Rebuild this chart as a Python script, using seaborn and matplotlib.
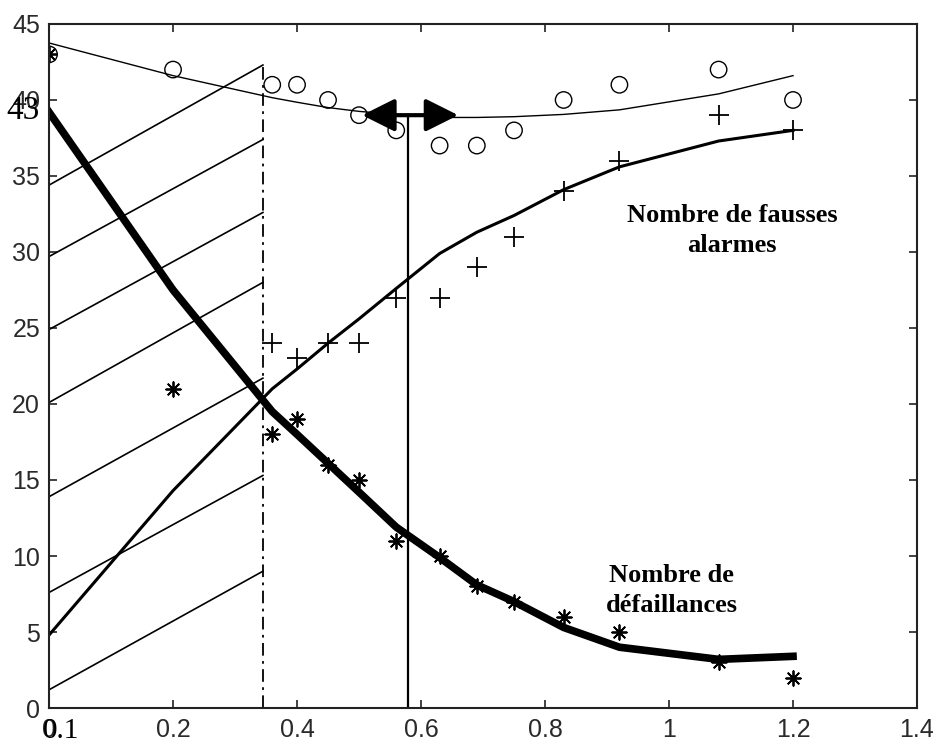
import matplotlib
matplotlib.use("Agg")
import seaborn as sns
from matplotlib import pyplot as plt

# seuils (abscisses des mesures)
seuils = [0, 0.2, 0.36, 0.4, 0.45, 0.5, 0.56, 0.63, 0.69, 0.75, 0.83, 0.92, 1.08, 1.2]

# mesures
cercles = [43, 42, 41, 41, 40, 39, 38, 37, 37, 38, 40, 41, 42, 40]
defaillances = [43, 21, 18, 19, 16, 15, 11, 10, 8, 7, 6, 5, 3, 2]
seuils_fa = [0.36, 0.4, 0.45, 0.5, 0.56, 0.63, 0.69, 0.75, 0.83, 0.92, 1.08, 1.2]
fausses_alarmes = [24, 23, 24, 24, 27, 27, 29, 31, 34, 36, 39, 38]

# courbes lissées
fit_cercles = [43.75, 41.6, 40.15, 39.85, 39.5, 39.25, 39.05, 38.85, 38.85, 38.9, 39.05, 39.35, 40.4, 41.6]
fit_defaillances = [39.2, 27.5, 19.5, 18.0, 16.1, 14.2, 11.9, 9.9, 8.1, 7.0, 5.3, 4.0, 3.2, 3.4]
fit_fausses_alarmes = [4.8, 14.3, 21.0, 22.3, 24.0, 25.6, 27.6, 29.9, 31.3, 32.4, 34.1, 35.6, 37.3, 38.0]

# zone hachurée
fin_zone = 0.345
hachures_gauche = [1.2, 7.6, 13.9, 20.1, 24.9, 29.7, 34.4]
hachures_droite = [9.0, 15.3, 21.7, 28.0, 32.6, 37.4, 42.3]

# seuil optimal et flèche
seuil_opt = 0.579
fleche_x = [0.505, 0.66]
fleche_y = 39.0

x_ticks = [0, 0.2, 0.4, 0.6, 0.8, 1.0, 1.2, 1.4]
x_labels = ["0", "0.2", "0.4", "0.6", "0.8", "1", "1.2", "1.4"]
y_ticks = [0, 5, 10, 15, 20, 25, 30, 35, 40, 45]

fig, ax = plt.subplots(figsize=(9.36, 7.42), dpi=100)
fig.subplots_adjust(left=0.0524, right=0.9797, bottom=0.0458, top=0.9677)

# hachures
for g, d in zip(hachures_gauche, hachures_droite):
    ax.plot([0, fin_zone], [g, d], color="k", lw=1.2)
ax.plot([fin_zone, fin_zone], [0, 42.5], color="k", lw=1.3,
        linestyle=(0, (7, 3, 1.5, 3)))

# courbes
sns.lineplot(x=seuils, y=fit_cercles, color="k", linewidth=1.0, estimator=None, ax=ax)
sns.lineplot(x=seuils, y=fit_fausses_alarmes, color="k", linewidth=2.2, estimator=None, ax=ax)
sns.lineplot(x=seuils, y=fit_defaillances, color="k", linewidth=5.5, estimator=None, ax=ax)

# points
sns.scatterplot(x=seuils, y=cercles, marker="o", s=140, facecolor="none",
                edgecolor="k", linewidth=1.0, ax=ax)
sns.scatterplot(x=seuils, y=defaillances, marker=(8, 2, 0), s=110, color="k",
                linewidth=1.3, ax=ax)
sns.scatterplot(x=seuils_fa, y=fausses_alarmes, marker="+", s=190, color="k",
                linewidth=1.3, ax=ax)

# seuil optimal
ax.plot([seuil_opt, seuil_opt], [0, fleche_y], color="k", lw=1.6)
ax.annotate("", xy=(fleche_x[0], fleche_y), xytext=(fleche_x[1], fleche_y),
            arrowprops=dict(arrowstyle="<|-|>,head_length=0.8,head_width=0.4",
                            lw=3, color="k", mutation_scale=25,
                            shrinkA=0, shrinkB=0))

# textes
txt = dict(family="Liberation Serif", weight="bold", fontsize=19, ha="center",
           va="baseline", color="k")
ax.text(1.102, 31.97, "Nombre de fausses", **txt)
ax.text(1.102, 30.0, "alarmes", **txt)
ax.text(1.004, 8.29, "Nombre de", **txt)
ax.text(1.004, 6.32, "défaillances", **txt)

# textes parasites superposés aux graduations
ax.text(-0.0145, 38.75, "43", family="Liberation Serif", fontsize=24,
        ha="right", va="baseline", clip_on=False)
ax.text(-0.0097, -1.97, "0.1", family="Liberation Serif", fontsize=21,
        ha="left", va="baseline", clip_on=False)

ax.set_xlim(0, 1.4)
ax.set_ylim(0, 45)
ax.set_xticks(x_ticks)
ax.set_xticklabels(x_labels)
ax.set_yticks(y_ticks)
for lab in ax.get_xticklabels() + ax.get_yticklabels():
    lab.set_family("Liberation Sans")
ax.tick_params(direction="in", top=True, right=True, length=6, width=1.2,
               labelsize=18, labelcolor="#2a2a2a", color="#222222")
ax.tick_params(axis="x", pad=7.4)
ax.tick_params(axis="y", pad=6.5)
for sp in ax.spines.values():
    sp.set_color("#222222")
    sp.set_linewidth(1.5)

plt.savefig("out.png", dpi=100)
